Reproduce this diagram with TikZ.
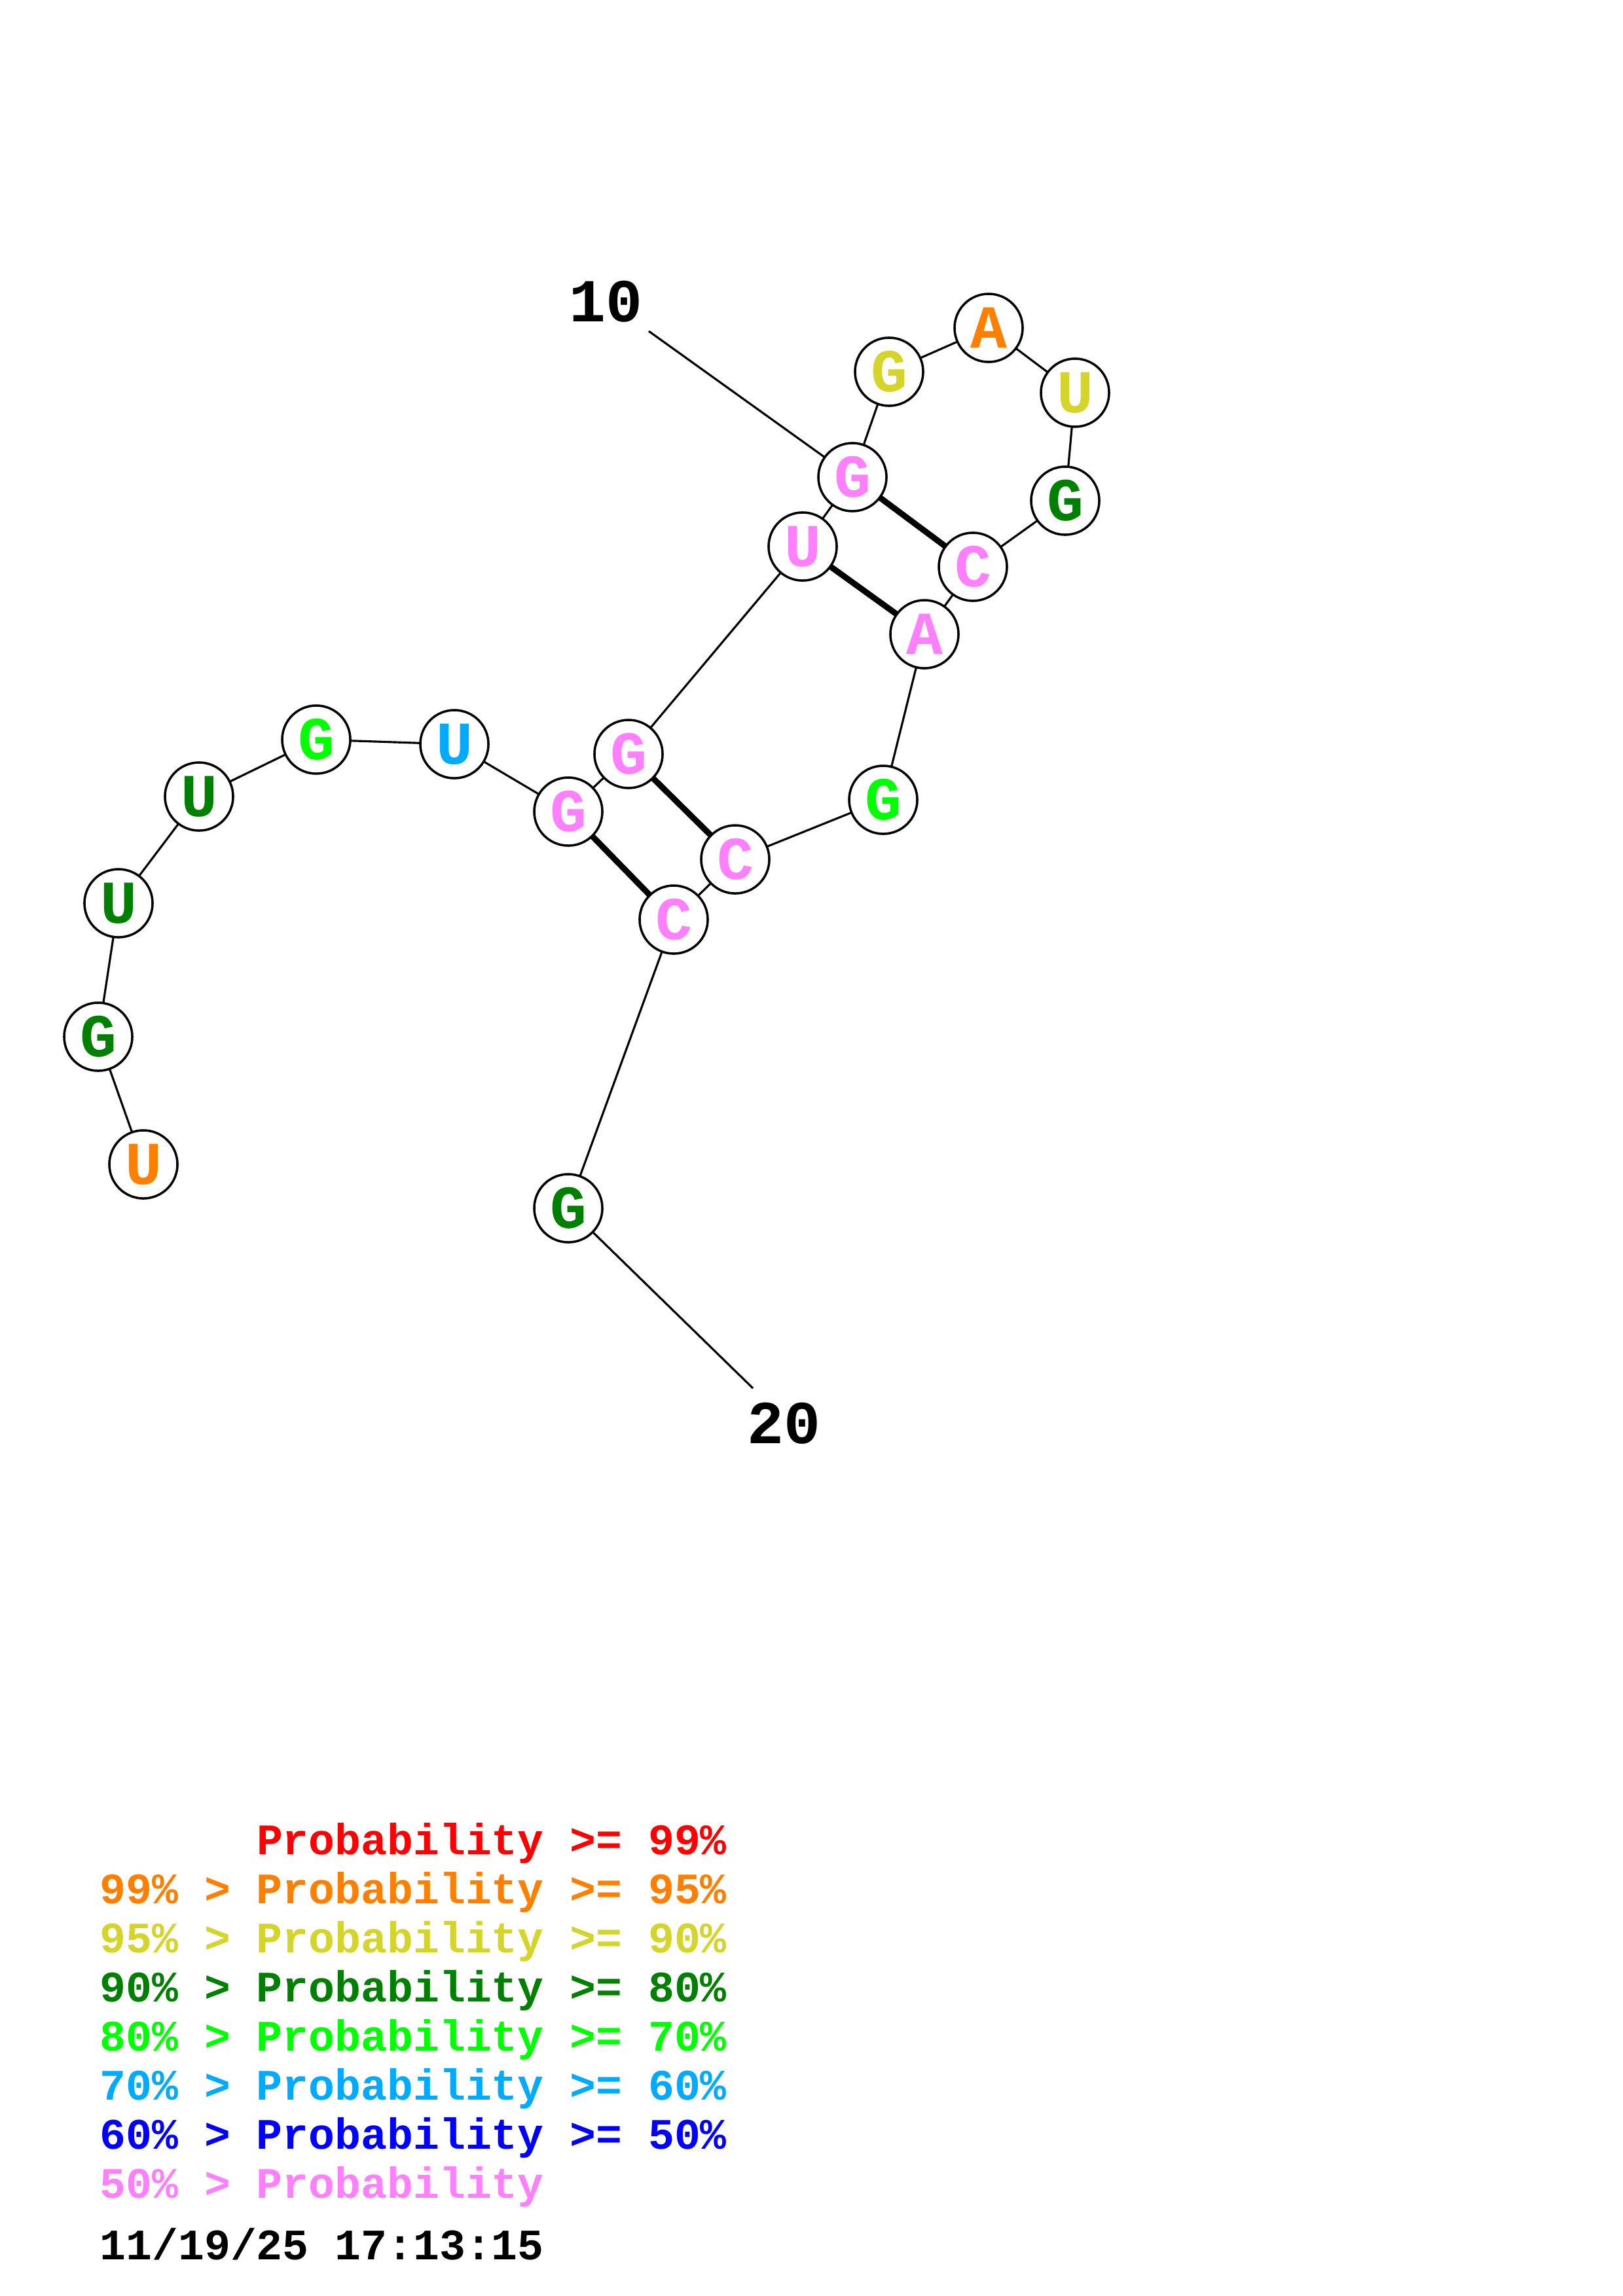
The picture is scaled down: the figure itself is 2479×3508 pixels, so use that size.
\documentclass[tikz,border=0pt]{standalone}
\usepackage{fontspec}
\setmainfont{Liberation Mono}
\definecolor{pred}{RGB}{255,0,0}
\definecolor{porange}{RGB}{255,128,0}
\definecolor{pyellow}{RGB}{212,212,42}
\definecolor{pdkgreen}{RGB}{0,128,0}
\definecolor{pgreen}{RGB}{0,255,0}
\definecolor{psky}{RGB}{0,170,255}
\definecolor{pblue}{RGB}{0,0,255}
\definecolor{ppink}{RGB}{255,128,255}
\begin{document}
\begin{tikzpicture}[x=0.01cm,y=-0.01cm,
  nt/.style={circle,draw=black,line width=1pt,fill=white,minimum size=1.04cm,inner sep=0pt,
    font=\fontsize{26.5}{26.5}\selectfont\bfseries},
  bb/.style={draw=black,line width=0.9pt},
  bp/.style={draw=black,line width=2.6pt},
  numlab/.style={font=\fontsize{26.5}{26.5}\selectfont\bfseries,inner sep=0pt},
  leg/.style={anchor=base west,inner sep=0pt,font=\fontsize{18.9}{18.9}\selectfont\bfseries}]
\useasboundingbox[fill=white] (0,0) rectangle (2479,3508);
\coordinate (p1) at (219,1779);
\coordinate (p2) at (150,1584);
\coordinate (p3) at (181,1380);
\coordinate (p4) at (304,1217);
\coordinate (p5) at (483,1130);
\coordinate (p6) at (694,1137);
\coordinate (p7) at (868,1240);
\coordinate (p8) at (960,1152);
\coordinate (p9) at (1226,835);
\coordinate (p10) at (1302,729);
\coordinate (p11) at (1358,568);
\coordinate (p12) at (1510,501);
\coordinate (p13) at (1642,600);
\coordinate (p14) at (1627,765);
\coordinate (p15) at (1486,866);
\coordinate (p16) at (1412,969);
\coordinate (p17) at (1349,1222);
\coordinate (p18) at (1123,1313);
\coordinate (p19) at (1029,1405);
\coordinate (p20) at (868,1846);
\coordinate (l10) at (991,506);
\coordinate (l20) at (1150,2121);
\draw[bb] (p1)--(p2)--(p3)--(p4)--(p5)--(p6)--(p7)--(p8)--(p9)--(p10)--(p11)--(p12)--(p13)--(p14)--(p15)--(p16)--(p17)--(p18)--(p19)--(p20);
\draw[bb] (p10)--(l10);
\draw[bb] (p20)--(l20);
\draw[bp] (p7)--(p19);
\draw[bp] (p8)--(p18);
\draw[bp] (p9)--(p16);
\draw[bp] (p10)--(p15);
\node[nt,text=porange] (n1) at (p1) {U};
\node[nt,text=pdkgreen] (n2) at (p2) {G};
\node[nt,text=pdkgreen] (n3) at (p3) {U};
\node[nt,text=pdkgreen] (n4) at (p4) {U};
\node[nt,text=pgreen] (n5) at (p5) {G};
\node[nt,text=psky] (n6) at (p6) {U};
\node[nt,text=ppink] (n7) at (p7) {G};
\node[nt,text=ppink] (n8) at (p8) {G};
\node[nt,text=ppink] (n9) at (p9) {U};
\node[nt,text=ppink] (n10) at (p10) {G};
\node[nt,text=pyellow] (n11) at (p11) {G};
\node[nt,text=porange] (n12) at (p12) {A};
\node[nt,text=pyellow] (n13) at (p13) {U};
\node[nt,text=pdkgreen] (n14) at (p14) {G};
\node[nt,text=ppink] (n15) at (p15) {C};
\node[nt,text=ppink] (n16) at (p16) {A};
\node[nt,text=pgreen] (n17) at (p17) {G};
\node[nt,text=ppink] (n18) at (p18) {C};
\node[nt,text=ppink] (n19) at (p19) {C};
\node[nt,text=pdkgreen] (n20) at (p20) {G};
\node[numlab] (t10) at (925,461) {10};
\node[numlab] (t20) at (1197,2175) {20};
\node[leg,text=pred] (g1) at (152,2833) {\hphantom{99\% > }Probability >= 99\%};
\node[leg,text=porange] (g2) at (152,2908) {99\% > Probability >= 95\%};
\node[leg,text=pyellow] (g3) at (152,2983) {95\% > Probability >= 90\%};
\node[leg,text=pdkgreen] (g4) at (152,3058) {90\% > Probability >= 80\%};
\node[leg,text=pgreen] (g5) at (152,3133) {80\% > Probability >= 70\%};
\node[leg,text=psky] (g6) at (152,3208) {70\% > Probability >= 60\%};
\node[leg,text=pblue] (g7) at (152,3283) {60\% > Probability >= 50\%};
\node[leg,text=ppink] (g8) at (152,3358) {50\% > Probability};
\node[leg,text=black] (g9) at (152,3452) {11/19/25 17:13:15};
\end{tikzpicture}
\end{document}
